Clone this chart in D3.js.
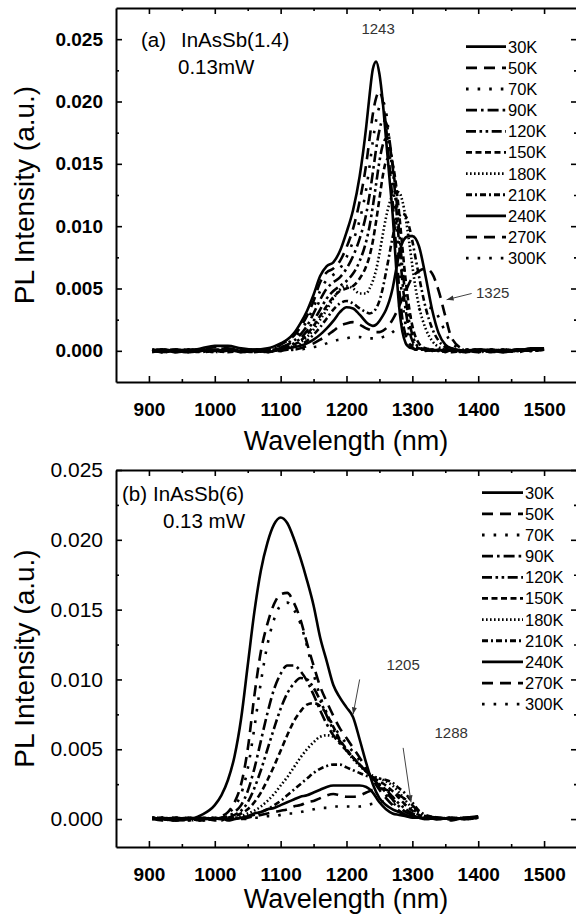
<!DOCTYPE html>
<html>
<head>
<meta charset="utf-8">
<script src="https://cdn.jsdelivr.net/npm/d3@7"></script>
<style>
  body { margin: 0; background: #fff; }
  svg { display: block; font-family: Arial, "Liberation Sans", sans-serif; }
</style>
</head>
<body>
<script>
// temperatures and the Origin line style used for each of them
const temps = ["30K", "50K", "70K", "90K", "120K", "150K", "180K", "210K", "240K", "270K", "300K"];
const lineStyles = ["solid", "dash", "dot", "dashDot", "dashDotDot", "shortDash", "shortDot", "shortDashDot", "solid", "dash", "dot"];

// ---- panel (a) InAsSb(1.4): wavelength (nm) and PL intensity in units of 1e-4 a.u.
const waveA = [905, 920, 940, 960, 980, 1000, 1020, 1040, 1060, 1080,
  1100, 1110, 1120, 1130, 1140, 1150, 1160, 1170, 1180, 1190, 1200, 1210, 1220, 1230,
  1235, 1240, 1245, 1250, 1255, 1260, 1265, 1270, 1275, 1280, 1285, 1290, 1295, 1300, 1305, 1310,
  1320, 1330, 1340, 1350, 1360, 1380, 1400, 1420, 1440, 1460, 1480, 1500];
const a30K = [1, -1, 1, 0, 2, 4, 4, 2, 1, 2, 6, 9, 14, 22, 32, 45, 60, 68, 71, 80, 95, 113, 140, 180, 205, 226, 232, 222, 200, 170, 140, 110, 70, 35, 15, 6, 3, 2, 1, 2, 1, 0, 1, -1, 1, 0, 1, -1, 1, 0, 2, 2];
const a50K = [0, 1, -1, 1, 1, 3, 2, 1, 0, 1, 5, 8, 12, 19, 28, 40, 55, 63, 66, 72, 83, 98, 120, 150, 170, 190, 203, 208, 200, 180, 150, 120, 85, 50, 25, 12, 6, 3, 1, 1, 0, 1, -1, 0, 1, -1, 0, 1, 0, 1, 1, 2];
const a70K = [-1, 0, 1, -1, 0, 1, 2, 0, 1, 0, 4, 6, 10, 16, 24, 35, 48, 57, 61, 66, 75, 88, 105, 130, 148, 168, 185, 196, 200, 192, 170, 140, 105, 70, 40, 20, 10, 5, 2, 1, 1, 0, 1, 0, -1, 1, 0, 1, -1, 0, 1, 1];
const a90K = [1, 0, -1, 0, 1, 0, 1, -1, 0, 1, 3, 5, 8, 13, 20, 30, 41, 50, 55, 59, 66, 76, 90, 110, 125, 143, 162, 177, 185, 183, 170, 148, 118, 85, 55, 32, 17, 8, 4, 2, 1, 1, 0, 1, 0, -1, 1, 0, 1, 0, 1, 2];
const a120K = [0, -1, 0, 1, -1, 1, 0, 1, -1, 0, 2, 4, 6, 10, 16, 24, 33, 42, 48, 52, 56, 62, 72, 88, 100, 116, 134, 152, 165, 170, 165, 150, 126, 96, 66, 42, 24, 13, 6, 3, 1, 0, 1, 0, 1, 0, -1, 1, 0, 1, 0, 1];
const a150K = [-1, 1, 0, -1, 1, 0, -1, 0, 1, 0, 2, 3, 5, 8, 13, 20, 28, 36, 43, 48, 50, 52, 58, 68, 76, 88, 104, 122, 140, 152, 155, 150, 134, 110, 82, 56, 35, 20, 11, 6, 2, 1, 0, 1, -1, 0, 1, 0, -1, 1, 0, 1];
const a180K = [0, 1, 0, 1, 0, -1, 0, 1, 0, -1, 1, 2, 4, 7, 11, 17, 25, 33, 42, 49, 52, 50, 46, 46, 50, 56, 65, 78, 93, 107, 118, 125, 128, 127, 120, 106, 88, 68, 50, 36, 18, 8, 3, 1, 0, 1, -1, 0, 1, 0, 1, 1];
const a210K = [1, -1, 0, 0, 1, 0, 1, -1, 0, 1, 1, 2, 3, 5, 8, 13, 19, 26, 33, 38, 40, 38, 34, 31, 30, 31, 34, 40, 50, 63, 77, 91, 102, 108, 110, 108, 100, 88, 74, 60, 35, 18, 8, 3, 1, 0, 1, -1, 0, 1, 0, 1];
const a240K = [0, 1, 0, -1, 0, 1, 0, 0, 1, -1, 1, 2, 3, 4, 6, 9, 13, 18, 24, 31, 35, 34, 29, 23, 21, 20, 21, 24, 28, 33, 40, 50, 64, 78, 87, 91, 92, 92, 90, 84, 60, 33, 14, 5, 2, 0, 1, 0, -1, 1, 1, 2];
const a270K = [-1, 0, 1, 0, -1, 0, 1, 0, -1, 0, 0, 1, 1, 2, 4, 6, 9, 12, 16, 20, 22, 23, 21, 18, 17, 16, 15, 15, 16, 18, 21, 25, 30, 36, 42, 48, 54, 59, 62, 64, 66, 62, 48, 28, 10, 1, 0, 1, 0, -1, 1, 1];
const a300K = [0, -1, 0, 1, 0, -1, 0, 1, 0, 0, 0, 0, 1, 1, 2, 3, 4, 6, 8, 9, 10, 11, 11, 10, 10, 10, 10, 10, 11, 12, 13, 15, 17, 19, 22, 24, 27, 29, 31, 33, 35, 34, 27, 15, 6, 1, 0, -1, 1, 0, 1, 1];

// ---- panel (b) InAsSb(6)
const waveB = [905, 920, 940, 960, 980,
  1000, 1010, 1020, 1030, 1040, 1050, 1060, 1070, 1080, 1090, 1100, 1110, 1120, 1130, 1140, 1150,
  1160, 1170, 1180, 1190, 1200, 1210, 1220, 1230, 1240, 1250, 1260, 1270, 1280, 1290, 1300, 1310, 1320,
  1340, 1360, 1380, 1400];
const b30K = [1, 0, 1, 0, 3, 10, 17, 28, 45, 72, 110, 148, 178, 198, 211, 216, 212, 201, 187, 171, 153, 130, 113, 96, 87, 80, 73, 57, 40, 25, 15, 10, 7, 5, 3, 2, 1, 1, 0, 1, 0, 2];
const b50K = [0, 1, -1, 1, 0, 1, 2, 5, 12, 25, 50, 88, 120, 140, 154, 161, 162, 155, 143, 126, 110, 95, 84, 74, 65, 58, 51, 44, 36, 28, 21, 15, 10, 6, 3, 2, 1, 0, 1, -1, 1, 1];
const b70K = [1, 0, 1, 0, -1, 1, 1, 4, 9, 18, 36, 65, 98, 125, 143, 153, 155, 150, 140, 124, 104, 88, 76, 67, 60, 54, 48, 42, 35, 28, 22, 17, 12, 8, 5, 3, 1, 1, 0, 1, 0, 1];
const b90K = [0, 1, 0, -1, 1, 0, 1, 2, 5, 10, 20, 36, 56, 76, 93, 104, 110, 110, 106, 99, 89, 78, 68, 60, 54, 49, 44, 39, 34, 29, 24, 19, 14, 9, 5, 3, 1, 0, 1, 0, 1, 1];
const b120K = [1, 0, -1, 0, 1, 0, 1, 1, 3, 6, 12, 22, 35, 50, 65, 79, 90, 97, 101, 100, 94, 85, 74, 64, 56, 50, 44, 39, 34, 29, 25, 21, 16, 11, 7, 4, 2, 1, 0, 1, 0, 1];
const b150K = [0, 1, 0, 1, -1, 0, 0, 1, 2, 4, 7, 12, 19, 28, 38, 49, 60, 70, 77, 82, 83, 81, 75, 66, 57, 50, 44, 39, 34, 30, 27, 24, 20, 15, 10, 6, 3, 1, 0, 1, 0, 1];
const b180K = [1, 0, 1, -1, 0, 1, 0, 0, 1, 2, 4, 6, 9, 13, 18, 24, 30, 37, 44, 50, 55, 59, 60, 59, 55, 49, 43, 38, 34, 31, 29, 27, 24, 19, 13, 8, 4, 2, 0, 1, 0, 1];
const b210K = [0, 1, 0, 0, -1, 1, 0, 1, 0, 1, 2, 3, 5, 7, 10, 13, 17, 21, 25, 29, 33, 36, 38, 39, 39, 37, 35, 33, 31, 30, 29, 28, 26, 22, 18, 12, 6, 3, 1, 0, 1, 1];
const b240K = [1, 0, -1, 1, 0, 0, 1, -1, 0, 1, 2, 4, 5, 7, 8, 10, 12, 14, 16, 17, 19, 21, 23, 24, 24, 24, 24, 24, 23, 19, 12, 7, 4, 3, 2, 1, 1, 0, 1, 0, 1, 2];
const b270K = [0, -1, 1, 0, 1, -1, 0, 0, 1, 0, 1, 2, 3, 4, 5, 6, 7, 9, 10, 12, 13, 15, 17, 18, 17, 16, 16, 17, 19, 21, 22, 21, 19, 17, 14, 10, 5, 2, 1, 0, 1, 1];
const b300K = [1, 0, -1, 0, 1, 0, -1, 1, 0, 0, 0, 1, 1, 2, 2, 3, 4, 4, 5, 6, 7, 8, 8, 9, 9, 9, 9, 9, 10, 11, 12, 13, 13, 12, 10, 7, 4, 2, 1, 0, 1, 1];

// axis ticks
const xTicks = [900, 1000, 1100, 1200, 1300, 1400, 1500];
const xMinorTicks = [950, 1050, 1150, 1250, 1350, 1450];
const yTicks = [0, 0.005, 0.010, 0.015, 0.020, 0.025];
const yMinorTicks = [0.0025, 0.0075, 0.0125, 0.0175, 0.0225];

const dashes = {
  solid: null,
  dash: "11,7",
  dot: "2.6,9",
  dashDot: "11,4,2.6,4",
  dashDotDot: "10,3.5,2.6,3.5,2.6,3.5",
  shortDash: "6,3.5",
  shortDot: "1.6,2.4",
  shortDashDot: "6,3,2,3"
};

const svg = d3.select("body").append("svg")
  .attr("width", 576)
  .attr("height", 915);

function drawPanel(p) {
  const x = d3.scaleLinear().domain([850, 1550]).range([116, 577]);
  const y = d3.scaleLinear().domain([p.yMin, p.yMax]).range([p.bottom, p.top]);
  const g = svg.append("g");

  const line = d3.line()
    .x(d => x(d[0]))
    .y(d => y(d[1] * 1e-4))
    .curve(d3.curveMonotoneX);

  p.series.forEach((vals, i) => {
    g.append("path")
      .datum(p.waves.map((w, j) => [w, vals[j]]))
      .attr("fill", "none")
      .attr("stroke", "#000")
      .attr("stroke-width", 2.6)
      .attr("stroke-linejoin", "round")
      .attr("stroke-dasharray", dashes[lineStyles[i]])
      .attr("d", line);
  });

  // axes, ticks pointing inwards
  const axes = [
    { make: d3.axisBottom, scale: x, t: `translate(0,${p.bottom})`, isX: true },
    { make: d3.axisTop, scale: x, t: `translate(0,${p.top})`, isX: true },
    { make: d3.axisLeft, scale: y, t: `translate(116,0)`, isX: false },
    { make: d3.axisRight, scale: y, t: `translate(577,0)`, isX: false }
  ];
  axes.forEach((a, k) => {
    const ga = g.append("g").attr("transform", a.t)
      .call(a.make(a.scale).tickValues(a.isX ? xTicks : yTicks)
        .tickSizeInner(-6).tickSizeOuter(0)
        .tickPadding(a.isX ? p.xPad : 13)
        .tickFormat(k === 0 ? d3.format("d") : (k === 2 ? d3.format(".3f") : "")));
    ga.select(".domain").attr("stroke-width", 2);
    ga.selectAll(".tick line").attr("stroke-width", 1.6);
    ga.selectAll("text").attr("fill", "#000");
    if (k === 0) ga.selectAll("text").attr("font-size", 19).attr("font-weight", "bold");
    if (k === 2) ga.selectAll("text").attr("font-size", p.yFont).attr("font-weight", p.yWeight);

    const gm = g.append("g").attr("transform", a.t)
      .call(a.make(a.scale).tickValues(a.isX ? xMinorTicks : yMinorTicks)
        .tickSizeInner(-3).tickSizeOuter(0).tickFormat(""));
    gm.select(".domain").remove();
    gm.selectAll(".tick line").attr("stroke-width", 1.6);
  });

  // axis titles
  g.append("text")
    .attr("x", 346).attr("y", p.xTitleY)
    .attr("text-anchor", "middle")
    .attr("font-size", 27)
    .text("Wavelength (nm)");
  g.append("text")
    .attr("transform", `translate(34,${(p.top + p.bottom) / 2}) rotate(-90)`)
    .attr("text-anchor", "middle")
    .attr("font-size", 28)
    .text("PL Intensity (a.u.)");

  // sample labels
  g.append("text").attr("x", p.tagX).attr("y", p.tagY)
    .attr("font-size", 20.5).text(p.tag);
  g.append("text").attr("x", p.nameX).attr("y", p.tagY)
    .attr("font-size", 20.5).text(p.name);
  g.append("text").attr("x", p.powerX).attr("y", p.tagY + 27)
    .attr("font-size", 20.5).text(p.power);

  // legend
  temps.forEach((t, i) => {
    const ly = p.legTop + i * 21.15;
    g.append("line")
      .attr("x1", p.legX0).attr("x2", p.legX1)
      .attr("y1", ly).attr("y2", ly)
      .attr("stroke", "#000").attr("stroke-width", 2.8)
      .attr("stroke-dasharray", dashes[lineStyles[i]]);
    g.append("text")
      .attr("x", p.legX1 + 2).attr("y", ly).attr("dy", "0.36em")
      .attr("font-size", 16.5).text(t);
  });

  // peak annotations with thin arrows
  p.notes.forEach(n => {
    if (n.label) {
      g.append("text").attr("x", x(n.at[0])).attr("y", y(n.at[1]))
        .attr("font-size", 15).attr("fill", "#333").attr("text-anchor", "middle")
        .text(n.label);
    }
    if (n.from) {
      const x1 = x(n.from[0]), y1 = y(n.from[1]), x2 = x(n.to[0]), y2 = y(n.to[1]);
      g.append("line").attr("x1", x1).attr("y1", y1).attr("x2", x2).attr("y2", y2)
        .attr("stroke", "#444").attr("stroke-width", 1);
      const ang = Math.atan2(y2 - y1, x2 - x1);
      const L = 7, wd = 2.5;
      const pts = [
        [x2, y2],
        [x2 - L * Math.cos(ang) + wd * Math.sin(ang), y2 - L * Math.sin(ang) - wd * Math.cos(ang)],
        [x2 - L * Math.cos(ang) - wd * Math.sin(ang), y2 - L * Math.sin(ang) + wd * Math.cos(ang)]
      ];
      g.append("polygon").attr("points", pts.map(q => q.join(",")).join(" ")).attr("fill", "#333");
    }
  });
}

drawPanel({
  waves: waveA,
  series: [a30K, a50K, a70K, a90K, a120K, a150K, a180K, a210K, a240K, a270K, a300K],
  yMin: -0.0025, yMax: 0.0275, top: 8, bottom: 382,
  xPad: 21, xTitleY: 450, yFont: 19, yWeight: "bold",
  tag: "(a)", name: "InAsSb(1.4)", power: "0.13mW",
  tagX: 141, nameX: 181, powerX: 178, tagY: 47,
  legTop: 46.7, legX0: 466, legX1: 506,
  notes: [
    { label: "1243", at: [1248, 0.0254] },
    { label: "1325", at: [1422, 0.0042], from: [1390, 0.0046], to: [1352, 0.0041] }
  ]
});

drawPanel({
  waves: waveB,
  series: [b30K, b50K, b70K, b90K, b120K, b150K, b180K, b210K, b240K, b270K, b300K],
  yMin: -0.002, yMax: 0.025, top: 470, bottom: 847,
  xPad: 21, xTitleY: 908, yFont: 21, yWeight: "normal",
  tag: "(b)", name: "InAsSb(6)", power: "0.13 mW",
  tagX: 122, nameX: 153, powerX: 163, tagY: 501,
  legTop: 492.7, legX0: 482, legX1: 523,
  notes: [
    { label: "1205", at: [1286, 0.0107], from: [1220, 0.0100], to: [1210, 0.0075] },
    { label: "1288", at: [1359, 0.0058], from: [1286, 0.0051], to: [1298, 0.0012] }
  ]
});
</script>
</body>
</html>
